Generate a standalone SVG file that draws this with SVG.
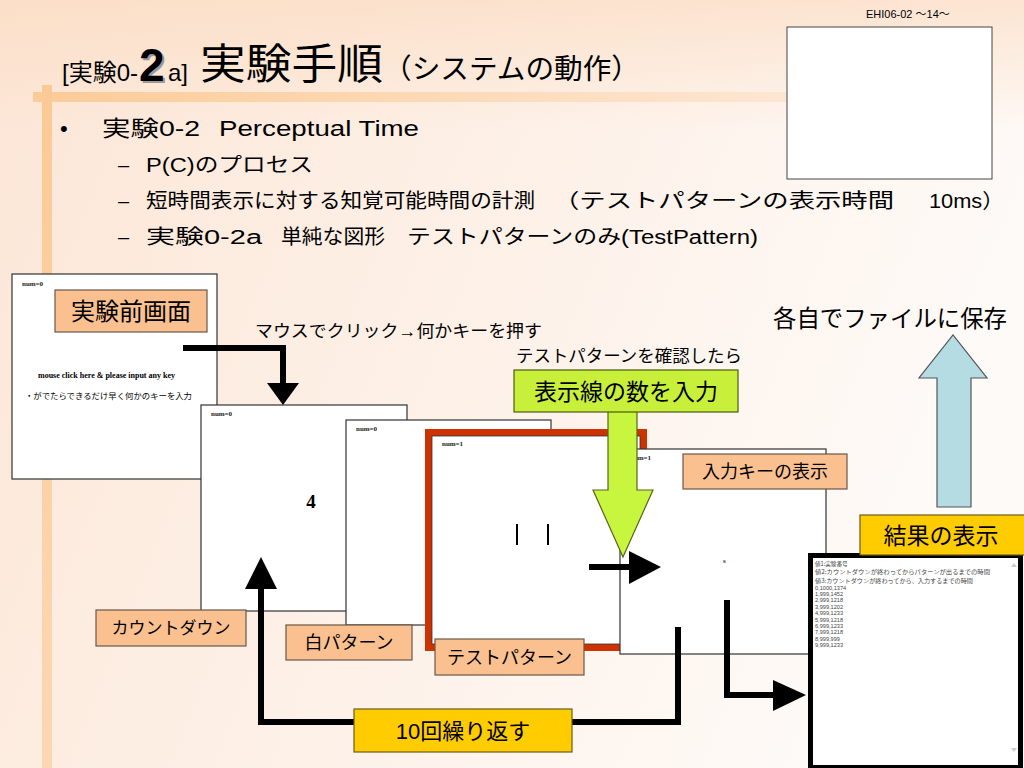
<svg xmlns="http://www.w3.org/2000/svg" width="1024" height="768" viewBox="0 0 1024 768">
<defs>
<linearGradient id="bg" x1="0" y1="0" x2="1" y2="0.3">
 <stop offset="0" stop-color="#fce6d6"/>
 <stop offset="1" stop-color="#fefaf7"/>
</linearGradient>
<linearGradient id="topg" x1="0" y1="0" x2="0" y2="1">
 <stop offset="0" stop-color="#fbdcc2" stop-opacity="0.7"/>
 <stop offset="1" stop-color="#fbdcc2" stop-opacity="0"/>
</linearGradient>
<linearGradient id="hband" x1="0" x2="1">
 <stop offset="0" stop-color="#fbcb98"/>
 <stop offset="1" stop-color="#fde6d2"/>
</linearGradient>
<linearGradient id="vband" x1="0" y1="0" x2="0" y2="1">
 <stop offset="0" stop-color="#fbc995"/>
 <stop offset="1" stop-color="#fcd7b4"/>
</linearGradient>
<style>
 text{font-family:"Liberation Sans","Noto Sans CJK JP",sans-serif;fill:#000}
 .screen{fill:#fff;stroke:#333;stroke-width:1.2}
 .num{font-family:"Liberation Serif","Noto Sans CJK JP",serif;font-size:7px;font-weight:bold;fill:#222}
 .lbl{fill:#fac090;stroke:#6b5848;stroke-width:1.2}
 .yel{fill:#ffcc00;stroke:#6b5a20;stroke-width:1.2}
 .grn{fill:#c8f03a;stroke:#4a5a10;stroke-width:1.2}
 .thick{fill:none;stroke:#000;stroke-width:6}
 .head{fill:#000}
 .resj{font-family:"Noto Sans CJK JP",sans-serif;font-size:5.6px;fill:#444}
 .resd{font-family:"Liberation Sans",sans-serif;font-size:5.6px;fill:#444}
 .bul{font-size:22px}
 .sub{font-size:20px}
</style>
</defs>

<!-- background -->
<rect x="0" y="0" width="1024" height="768" fill="url(#bg)"/>
<rect x="0" y="0" width="1024" height="130" fill="url(#topg)"/>
<rect x="33" y="92" width="760" height="10" fill="url(#hband)"/>
<rect x="42" y="85" width="10" height="683" fill="url(#vband)"/>

<!-- header -->
<text x="866" y="18" font-size="11">EHI06-02 ～14～</text>
<rect x="787" y="27" width="205" height="152" fill="#fff" stroke="#444" stroke-width="1"/>

<!-- title -->
<g id="title">
 <text x="62" y="81" font-size="24" textLength="76" lengthAdjust="spacingAndGlyphs">[実験0-</text>
 <text x="141" y="83" font-size="46" font-weight="bold" style="fill:#9a9a9a">2</text>
 <text x="139" y="81" font-size="46" font-weight="bold">2</text>
 <text x="168" y="81" font-size="24">a]</text>
 <text x="200" y="79" font-size="42" textLength="183" lengthAdjust="spacingAndGlyphs">実験手順</text>
 <text x="383" y="79" font-size="28" textLength="257" lengthAdjust="spacingAndGlyphs">（システムの動作）</text>
</g>

<!-- bullets -->
<g id="bullets">
 <text x="60" y="136" class="bul">•</text>
 <text x="102" y="136" class="bul" textLength="98" lengthAdjust="spacingAndGlyphs">実験0-2</text>
 <text x="219" y="136" class="bul" textLength="200" lengthAdjust="spacingAndGlyphs">Perceptual Time</text>
 <text x="118" y="172" class="sub">–</text>
 <text x="146" y="172" class="sub" textLength="167" lengthAdjust="spacingAndGlyphs">P(C)のプロセス</text>
 <text x="118" y="208" class="sub">–</text>
 <text x="146" y="208" class="sub" textLength="389" lengthAdjust="spacingAndGlyphs">短時間表示に対する知覚可能時間の計測</text>
 <text x="553" y="208" class="sub" textLength="341" lengthAdjust="spacingAndGlyphs">（テストパターンの表示時間</text>
 <text x="929" y="208" class="sub" textLength="75" lengthAdjust="spacingAndGlyphs">10ms）</text>
 <text x="118" y="244" class="sub">–</text>
 <text x="146" y="244" class="sub" textLength="116" lengthAdjust="spacingAndGlyphs">実験0-2a</text>
 <text x="281" y="244" class="sub" textLength="104" lengthAdjust="spacingAndGlyphs">単純な図形</text>
 <text x="407" y="244" class="sub" textLength="351" lengthAdjust="spacingAndGlyphs">テストパターンのみ(TestPattern)</text>
</g>

<!-- screens -->
<g id="screen-before">
 <rect class="screen" x="12" y="274" width="205" height="205"/>
 <text class="num" x="22" y="286">num=0</text>
 <text x="38" y="378" font-size="7.2" font-weight="bold" textLength="137" lengthAdjust="spacingAndGlyphs" style="font-family:'Liberation Serif',serif">mouse click here &amp; please input any key</text>
 <text x="25" y="399" font-size="8.3" textLength="167" lengthAdjust="spacingAndGlyphs" style="font-family:'Noto Sans CJK JP',sans-serif">・がでたらできるだけ早く何かのキーを入力</text>
</g>
<g id="screen-countdown">
 <rect class="screen" x="201" y="405" width="206" height="206"/>
 <text class="num" x="211" y="416">num=0</text>
 <text x="311" y="508" font-size="19" font-weight="bold" text-anchor="middle" style="font-family:'Liberation Serif',serif">4</text>
</g>
<g id="screen-white">
 <rect class="screen" x="346" y="420" width="205" height="205"/>
 <text class="num" x="356" y="431">num=0</text>
</g>
<g id="screen-test">
 <rect x="428.5" y="432.5" width="215" height="215" fill="#fff" stroke="#cc3300" stroke-width="7"/>
 <rect x="432" y="436" width="208" height="208" fill="none" stroke="#333" stroke-width="0.8"/>
 <text class="num" x="442" y="446">num=1</text>
 <line x1="517" y1="524" x2="517" y2="545" stroke="#000" stroke-width="2"/>
 <line x1="548" y1="524" x2="548" y2="545" stroke="#000" stroke-width="2"/>
</g>
<g id="screen-input">
 <rect class="screen" x="620" y="449" width="206" height="205"/>
 <text class="num" x="630" y="460">num=1</text>
 <text class="num" x="723" y="563">s</text>
</g>
<g id="screen-result">
 <rect x="810.5" y="555.5" width="210" height="212" fill="#fff" stroke="#000" stroke-width="5"/>
 <text class="resj" x="815" y="566">値1:実験番号</text>
 <text class="resj" x="815" y="574.3" textLength="175" lengthAdjust="spacingAndGlyphs">値2:カウントダウンが終わってからパターンが出るまでの時間</text>
 <text class="resj" x="815" y="582.6" textLength="158" lengthAdjust="spacingAndGlyphs">値3:カウントダウンが終わってから、入力するまでの時間</text>
 <text class="resd" x="815" y="589.5">0,1000,1374</text>
 <text class="resd" x="815" y="595.9">1,999,1452</text>
 <text class="resd" x="815" y="602.3">2,999,1218</text>
 <text class="resd" x="815" y="608.7">3,999,1202</text>
 <text class="resd" x="815" y="615.1">4,999,1233</text>
 <text class="resd" x="815" y="621.5">5,999,1218</text>
 <text class="resd" x="815" y="627.9">6,999,1233</text>
 <text class="resd" x="815" y="634.3">7,999,1218</text>
 <text class="resd" x="815" y="640.7">8,999,999</text>
 <text class="resd" x="815" y="647.1">9,999,1233</text>
 <polygon points="1011,567 1017,567 1014,563" fill="#ccc"/>
 <polygon points="1011,748 1017,748 1014,752" fill="#ccc"/>
</g>

<!-- connectors -->
<g id="connectors">
 <path class="thick" d="M183,348 H283 V384" stroke-width="7"/>
 <polygon class="head" points="267,383 299,383 283,405"/>
 <path class="thick" d="M261,587 V722 H356"/>
 <polygon class="head" points="245,589 277,589 261,557"/>
 <path class="thick" d="M570,722 H678 V627"/>
 <path class="thick" d="M589,567 H631"/>
 <polygon class="head" points="629,551 629,584 661,567"/>
 <path class="thick" d="M727,600 V695 H775" stroke-width="5"/>
 <polygon class="head" points="773,680 773,711 806,695"/>
 <polygon points="608,411 608,490 593,490 623,557 653,490 637,490 637,411" fill="#c8f53d" stroke="#56661a" stroke-width="1.2"/>
 <polygon points="937,507 937,378 919,378 953,335 987,378 971,378 971,507" fill="#b5dce2" stroke="#555" stroke-width="1.2"/>
</g>

<!-- labels -->
<g id="lbl-before">
 <rect class="lbl" x="55" y="290" width="152" height="42"/>
 <text x="131" y="320" font-size="24" text-anchor="middle">実験前画面</text>
</g>
<g id="lbl-countdown">
 <rect class="lbl" x="96" y="610" width="150" height="36"/>
 <text x="171" y="634" font-size="17" text-anchor="middle">カウントダウン</text>
</g>
<g id="lbl-white">
 <rect class="lbl" x="286" y="625" width="126" height="35"/>
 <text x="349" y="649" font-size="18" text-anchor="middle">白パターン</text>
</g>
<g id="lbl-test">
 <rect class="lbl" x="435" y="639" width="149" height="36"/>
 <text x="509.5" y="664" font-size="18" text-anchor="middle">テストパターン</text>
</g>
<g id="lbl-input">
 <rect class="lbl" x="683" y="454" width="164" height="35"/>
 <text x="765" y="478" font-size="18" text-anchor="middle">入力キーの表示</text>
</g>
<g id="lbl-repeat">
 <rect class="yel" x="354" y="709" width="218" height="43"/>
 <text x="463" y="739" font-size="22" text-anchor="middle">10回繰り返す</text>
</g>
<g id="lbl-result">
 <rect class="yel" x="860" y="515" width="166" height="40"/>
 <text x="941" y="544" font-size="23" text-anchor="middle">結果の表示</text>
</g>
<g id="lbl-enter">
 <rect class="grn" x="514" y="370" width="224" height="42"/>
 <text x="626" y="400" font-size="23" text-anchor="middle">表示線の数を入力</text>
</g>
<g id="notes">
 <text x="255" y="337" font-size="17" textLength="287" lengthAdjust="spacingAndGlyphs">マウスでクリック→何かキーを押す</text>
 <text x="516" y="362" font-size="17" textLength="226" lengthAdjust="spacingAndGlyphs">テストパターンを確認したら</text>
 <text x="773" y="327" font-size="23.5" textLength="234" lengthAdjust="spacingAndGlyphs">各自でファイルに保存</text>
</g>
</svg>
